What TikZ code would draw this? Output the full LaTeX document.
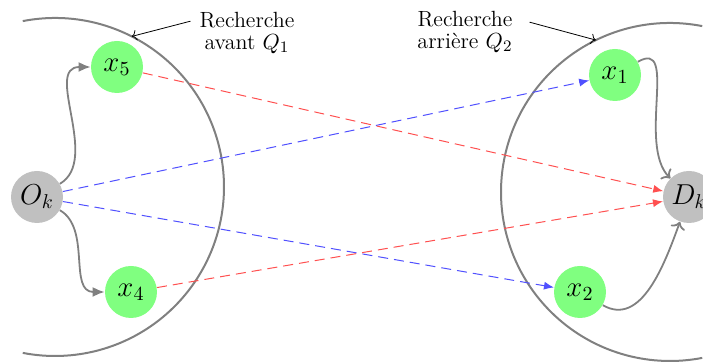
\documentclass[tikz,border=0pt]{standalone}
\usepackage{amsmath}
\usepackage{xcolor}
\usepackage{tikz}
\usetikzlibrary{arrows.meta}
\definecolor{searchgreen}{HTML}{80FF80}
\definecolor{searchgray}{HTML}{C0C0C0}
\definecolor{ringgray}{HTML}{808080}
\definecolor{fwdblue}{HTML}{5050FF}
\definecolor{bwdred}{HTML}{FF5050}

\begin{document}
\begin{tikzpicture}[x=0.5pt,y=0.5pt,
  endpt/.style={circle,fill=searchgray,minimum size=26pt,inner sep=0pt,font=\Large},
  midpt/.style={circle,fill=searchgreen,minimum size=26pt,inner sep=0pt,font=\Large},
  ring/.style={ringgray,line width=1pt},
  hop/.style={ringgray,line width=0.9pt},
  cross/.style={dash pattern=on 5pt off 3pt,line width=0.5pt,-{Latex[length=5pt,width=4pt]}},
  note/.style={font=\fontsize{11pt}{11pt}\selectfont,align=center}]
  \useasboundingbox (0,0) rectangle (703,363);
  \clip (0,0) rectangle (703,363);
  % search rings
  \draw[ring] (55,176) ++(101:84.5pt) arc[start angle=101,end angle=-101,radius=84.5pt];
  \draw[ring] (670,171) ++(79:84.5pt) arc[start angle=79,end angle=281,radius=84.5pt];
  \path (55,176) ++(63:84.5pt) coordinate (tipA);
  \path (670,171) ++(116:84.5pt) coordinate (tipB);
  % nodes
  \node[endpt] (ok) at (37,166) {$O_k$};
  \node[midpt] (x5) at (117,296) {$x_5$};
  \node[midpt] (x4) at (131,71) {$x_4$};
  \node[midpt] (x1) at (615,288) {$x_1$};
  \node[midpt] (x2) at (580,71) {$x_2$};
  \node[endpt] (dk) at (689,166) {$D_k$};
  \node[note] (labA) at (247,330) {Recherche\\avant $Q_1$};
  \node[note] (labB) at (465,331) {Recherche\\arri\`ere $Q_2$};
  % local hops
  \draw[hop,-{Latex[length=6pt,width=5pt]}] (ok) to[out=30,in=180] (x5);
  \draw[hop,-{Latex[length=6pt,width=5pt]}] (ok) to[out=-30,in=180] (x4);
  \draw[hop,->] (x1) to[out=30,in=135] (dk);
  \draw[hop,->] (x2) to[out=-30,in=-110] (dk);
  % crossing searches
  \draw[cross,fwdblue] (ok) -- (x1);
  \draw[cross,fwdblue] (ok) -- (x2);
  \draw[cross,bwdred] (x5) -- (dk);
  \draw[cross,bwdred] (x4) -- (dk);
  % labels
  \draw[->,line width=0.4pt] ([xshift=-1pt,yshift=-8pt]labA.north west) -- (tipA);
  \draw[->,line width=0.4pt] ([xshift=5pt,yshift=-9pt]labB.north east) -- (tipB);
\end{tikzpicture}
\end{document}
